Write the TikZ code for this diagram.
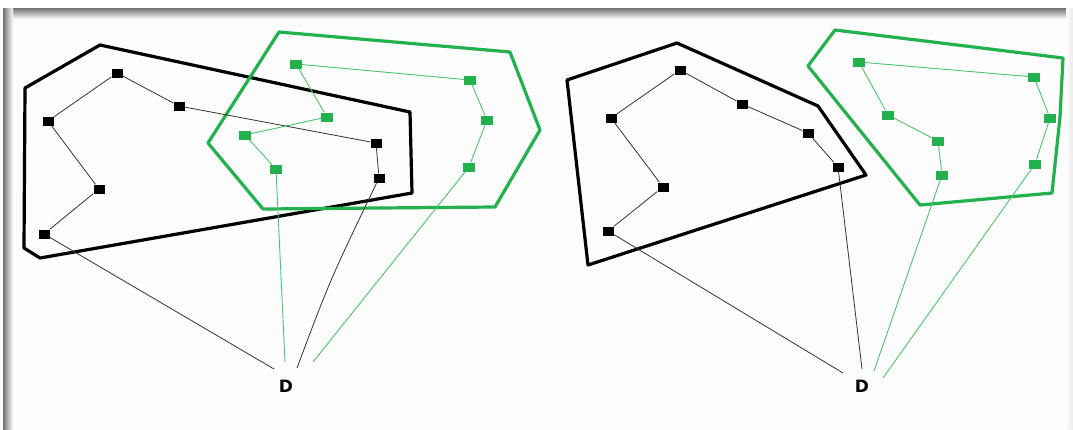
\documentclass[tikz,border=0pt]{standalone}
\usepackage{fontspec}
\newfontfamily\labelfont{DejaVu Sans}
\definecolor{pgreen}{HTML}{22B14C}
\definecolor{lgreen}{HTML}{4CC46C}
\begin{document}
\begin{tikzpicture}[x=1pt,y=-1pt,
  bsq/.style={rectangle,fill=black,minimum width=11pt,minimum height=9pt,inner sep=0pt},
  gsq/.style={rectangle,fill=pgreen,minimum width=12pt,minimum height=9pt,inner sep=0pt},
  bhull/.style={draw=black,line width=3.2pt,line join=round},
  ghull/.style={draw=pgreen,line width=3.2pt,line join=round},
  bchain/.style={draw=black!80,line width=0.8pt},
  gchain/.style={draw=lgreen,line width=0.9pt},
  dlab/.style={font=\labelfont\bfseries\fontsize{17}{17}\selectfont,inner sep=0pt}]
\useasboundingbox (0,0) rectangle (1073,429);
% frame
\fill[white] (0,0) rectangle (1073,429);
\fill[black!1] (3,8) rectangle (1073,429);
\shade[top color=black!55,bottom color=black!1] (3,8) rectangle (1073,19);
\shade[left color=black!55,right color=black!1] (3,8) rectangle (13,429);
\shade[left color=black!1,right color=black!8] (1066,8) rectangle (1073,429);

% ===== left panel =====
\draw[bhull] (25,88) -- (100,45) -- (410,112) -- (412,193) -- (40,258) -- (24,248) -- cycle;
\draw[ghull] (279,32) -- (510,52) -- (540,130) -- (495,207) -- (263,209) -- (208,143) -- cycle;

\node[bsq] (a1) at (44,234) {};
\node[bsq] (a2) at (99,189) {};
\node[bsq] (a3) at (48,121) {};
\node[bsq] (a4) at (117,73) {};
\node[bsq] (a5) at (179,106) {};
\node[bsq] (a6) at (376,143) {};
\node[bsq] (a7) at (379,178) {};

\node[gsq] (g1) at (296,64) {};
\node[gsq] (g2) at (470,80) {};
\node[gsq] (g3) at (487,120) {};
\node[gsq] (g4) at (469,167) {};
\node[gsq] (g5) at (327,117) {};
\node[gsq] (g6) at (245,135) {};
\node[gsq] (g7) at (276,169) {};

\draw[bchain] (a1) -- (a2) -- (a3) -- (a4) -- (a5) -- (a6) -- (a7);
\draw[gchain] (g4) -- (g3) -- (g2) -- (g1) -- (g5) -- (g6) -- (g7);

\node[dlab] (D1) at (286,386) {D};
\coordinate (e1) at (274,369);
\coordinate (e2) at (285,362);
\coordinate (e3) at (297,368);
\coordinate (e4) at (313,362);
\draw[bchain] (a1) -- (e1);
\draw[bchain] (a7) .. controls (330,280) .. (e3);
\draw[gchain] (g7) -- (e2);
\draw[gchain] (g4) -- (e4);

% ===== right panel =====
\draw[bhull] (567,80) -- (677,43) -- (818,106) -- (866,175) -- (588,265) -- cycle;
\draw[ghull] (835,30) -- (1063,58) -- (1060,117) -- (1052,193) -- (920,205) -- (808,66) -- cycle;

\node[bsq] (b1) at (608,231) {};
\node[bsq] (b2) at (663,187) {};
\node[bsq] (b3) at (611,118) {};
\node[bsq] (b4) at (680,70) {};
\node[bsq] (b5) at (742,104) {};
\node[bsq] (b6) at (808,133) {};
\node[bsq] (b7) at (838,167) {};

\node[gsq] (h1) at (859,62) {};
\node[gsq] (h2) at (1034,77) {};
\node[gsq] (h3) at (1050,118) {};
\node[gsq] (h4) at (1035,164) {};
\node[gsq] (h5) at (888,115) {};
\node[gsq] (h6) at (938,141) {};
\node[gsq] (h7) at (942,175) {};

\draw[bchain] (b1) -- (b2) -- (b3) -- (b4) -- (b5) -- (b6) -- (b7);
\draw[gchain] (h4) -- (h3) -- (h2) -- (h1) -- (h5) -- (h6) -- (h7);

\node[dlab] (D2) at (862,386) {D};
\coordinate (f1) at (843,373);
\coordinate (f2) at (862,369);
\coordinate (f3) at (874,371);
\coordinate (f4) at (883,378);
\draw[bchain] (b1) -- (f1);
\draw[bchain] (b7) -- (f2);
\draw[gchain] (h7) -- (f3);
\draw[gchain] (h4) -- (f4);
\end{tikzpicture}
\end{document}
